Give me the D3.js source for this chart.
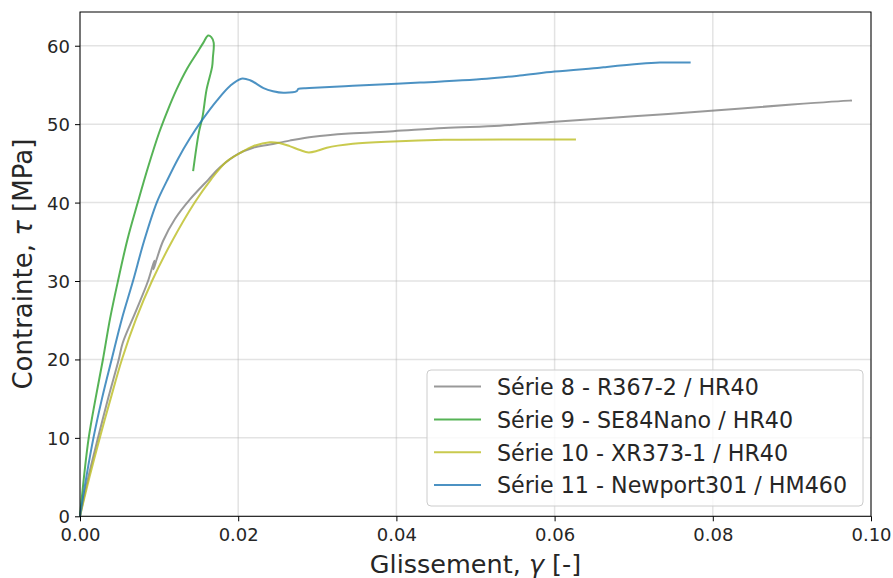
<!DOCTYPE html>
<html><head><meta charset="utf-8">
<script src="https://cdn.jsdelivr.net/npm/d3@7"></script>
<style>body{margin:0;background:#fff}svg{display:block}text{font-family:"DejaVu Sans",sans-serif;fill:#262626}</style>
</head><body><svg id="c" width="893" height="578"></svg>
<script>
const xTicks = [0, 0.02, 0.04, 0.06, 0.08, 0.10];
const yTicks = [0, 10, 20, 30, 40, 50, 60];
const seriesNames = ["Série 8 - R367-2 / HR40", "Série 9 - SE84Nano / HR40", "Série 10 - XR373-1 / HR40", "Série 11 - Newport301 / HM460"];
const seriesColors = ["#7f7f7f", "#2ca02c", "#bcbd22", "#1f77b4"];
const serie8 = [[0,0],[0.0011,5.2],[0.0023,10.1],[0.0036,15.2],[0.0049,20],[0.0054,22.1],[0.0070,26],[0.0086,30],[0.0094,32.6],[0.0093,31.5],[0.0097,32.8],[0.0105,35.1],[0.0120,37.9],[0.0139,40.4],[0.0162,42.9],[0.0177,44.5],[0.0200,46.2],[0.0219,47.0],[0.024,47.4],[0.0265,47.9],[0.0295,48.4],[0.0340,48.8],[0.0396,49.1],[0.0460,49.5],[0.0531,49.8],[0.060,50.3],[0.070,51.0],[0.0798,51.7],[0.090,52.5],[0.0973,53.0],[0.0976,53.0]];
const serie9 = [[0,0],[0.0005,5],[0.0011,10],[0.0020,15.2],[0.0029,20],[0.0038,25.2],[0.0048,30],[0.0060,35.3],[0.0073,40],[0.0086,44.5],[0.0100,48.9],[0.0111,51.8],[0.0122,54.4],[0.0135,57],[0.0148,59.1],[0.0156,60.4],[0.0162,61.3],[0.0166,61.1],[0.0169,60.4],[0.0168,58.5],[0.0167,57.3],[0.0160,54.4],[0.0155,51],[0.0150,48.8],[0.0143,44]];
const serie10 = [[0,0],[0.0012,5],[0.0025,10],[0.0039,15.1],[0.0053,20],[0.0071,25.2],[0.0091,30],[0.0116,35],[0.0145,40],[0.0166,43],[0.0185,45.2],[0.0202,46.3],[0.0219,47.2],[0.024,47.7],[0.0252,47.6],[0.0265,47.2],[0.0278,46.7],[0.0289,46.4],[0.0300,46.6],[0.0312,47.0],[0.0345,47.5],[0.0396,47.8],[0.046,48.0],[0.0556,48.05],[0.0627,48.05]];
const serie11 = [[0,0],[0.0008,5],[0.0017,10],[0.0028,15.1],[0.004,20],[0.0053,25.2],[0.0067,30],[0.0081,35.1],[0.0097,40],[0.0110,42.8],[0.0124,45.6],[0.0139,48.2],[0.0155,50.6],[0.0173,53.0],[0.019,54.9],[0.0204,55.8],[0.0215,55.6],[0.0232,54.6],[0.0244,54.2],[0.0257,54.0],[0.0274,54.2],[0.0276,54.5],[0.0290,54.6],[0.0345,54.9],[0.043,55.3],[0.0514,55.8],[0.0556,56.2],[0.060,56.7],[0.0657,57.2],[0.0666,57.3],[0.0708,57.7],[0.0733,57.85],[0.0772,57.85]];
const allSeries = [serie8, serie9, serie10, serie11];

const svg = d3.select("#c");
const L = 80, R = 871, T = 12, B = 516.3;
const x = d3.scaleLinear().domain([0, 0.10]).range([L, R]);
const y = d3.scaleLinear().domain([0, 64.3]).range([B, T]);

// grid
const g = svg.append("g");
g.selectAll(".gx").data(xTicks).join("line").attr("x1", d=>x(d)).attr("x2", d=>x(d)).attr("y1", T).attr("y2", B).attr("stroke", "#b0b0b0").attr("stroke-opacity", 0.35).attr("stroke-width", 1.5);
g.selectAll(".gy").data(yTicks).join("line").attr("y1", d=>y(d)).attr("y2", d=>y(d)).attr("x1", L).attr("x2", R).attr("stroke", "#b0b0b0").attr("stroke-opacity", 0.35).attr("stroke-width", 1.5);

// lines
const line = d3.line().x(d=>x(d[0])).y(d=>y(d[1])).curve(d3.curveCatmullRom.alpha(0.5));
allSeries.forEach((s, i) => {
  svg.append("path").datum(s).attr("d", line).attr("fill", "none").attr("stroke", seriesColors[i]).attr("stroke-opacity", 0.8).attr("stroke-width", 2).attr("stroke-linejoin", "round");
});

// axes
const xAxis = d3.axisBottom(x).tickValues(xTicks).tickFormat(d3.format(".2f")).tickSize(5).tickPadding(7);
const yAxis = d3.axisLeft(y).tickValues(yTicks).tickFormat(d3.format("d")).tickSize(5).tickPadding(5);
const gx = svg.append("g").attr("transform", `translate(0,${B})`).call(xAxis);
const gy = svg.append("g").attr("transform", `translate(${L},0)`).call(yAxis);
[gx, gy].forEach(a => {
  a.select(".domain").remove();
  a.selectAll("line").attr("stroke", "#000").attr("stroke-width", 1);
  a.selectAll("text").attr("font-size", 18).attr("fill", "#262626").attr("font-family", "DejaVu Sans");
});
gy.selectAll("text").attr("dy", "0.36em");
// frame
svg.append("rect").attr("x", L).attr("y", T).attr("width", R-L).attr("height", B-T).attr("fill", "none").attr("stroke", "#000").attr("stroke-width", 1);

// labels
const xl = svg.append("text").attr("x", (L+R)/2).attr("y", 573).attr("text-anchor", "middle").attr("font-size", 25.5);
xl.append("tspan").text("Glissement, ");
xl.append("tspan").attr("font-style", "italic").text("γ");
xl.append("tspan").text(" [-]");
const yl = svg.append("text").attr("transform", `translate(32,${(T+B)/2}) rotate(-90)`).attr("text-anchor", "middle").attr("font-size", 26);
yl.append("tspan").text("Contrainte, ");
yl.append("tspan").attr("font-style", "italic").text("τ");
yl.append("tspan").text(" [MPa]");

// legend
const lg = svg.append("g");
lg.append("rect").attr("x", 427).attr("y", 370).attr("width", 436).attr("height", 136).attr("rx", 4).attr("fill", "#fff").attr("fill-opacity", 0.8).attr("stroke", "#cccccc").attr("stroke-width", 1);
seriesNames.forEach((n, i) => {
  const cy = 386.6 + i * 32.8;
  lg.append("line").attr("x1", 434).attr("x2", 481).attr("y1", cy).attr("y2", cy).attr("stroke", seriesColors[i]).attr("stroke-opacity", 0.8).attr("stroke-width", 2);
  lg.append("text").attr("x", 497).attr("y", cy + 8.4).attr("font-size", 22.2).text(n);
});
</script></body></html>
